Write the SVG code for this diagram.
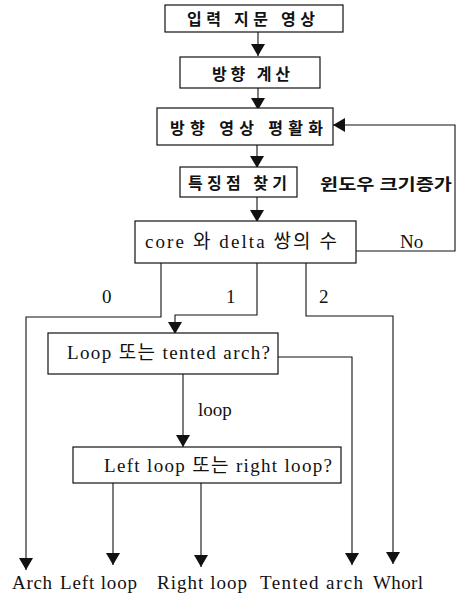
<svg xmlns="http://www.w3.org/2000/svg" width="460" height="597" viewBox="0 0 460 597">
<style>
.box{fill:#fff;stroke:#111;stroke-width:1.2}
.ln{fill:none;stroke:#111;stroke-width:1.1}
.t{font-family:"Liberation Serif","Noto Sans CJK KR",serif;fill:#111}
.k{font-size:16px;font-weight:bold}
.e{font-size:19px}
.b{font-size:19px}
</style>
<defs>
<marker id="ah" markerUnits="userSpaceOnUse" markerWidth="12" markerHeight="14" viewBox="0 0 12 14" refX="12" refY="7" orient="auto">
<path d="M0,0 L12,7 L0,14 Z" fill="#111"/>
</marker>
</defs>
<g id="connectors">
<line class="ln" x1="258" y1="32" x2="258" y2="56" marker-end="url(#ah)"/>
<line class="ln" x1="258" y1="88" x2="258" y2="110" marker-end="url(#ah)"/>
<line class="ln" x1="257" y1="145" x2="257" y2="168" marker-end="url(#ah)"/>
<line class="ln" x1="257" y1="197" x2="257" y2="222" marker-end="url(#ah)"/>
<polyline class="ln" points="356,251 455,251 455,125 333,125" marker-end="url(#ah)"/>
<polyline class="ln" points="161,263 161,317 26,317 26,570" marker-end="url(#ah)"/>
<polyline class="ln" points="257,263 257,315 175,315 175,334" marker-end="url(#ah)"/>
<polyline class="ln" points="306,263 306,316 393,316 393,564" marker-end="url(#ah)"/>
<polyline class="ln" points="278,357 352,357 352,565" marker-end="url(#ah)"/>
<line class="ln" x1="183" y1="374" x2="183" y2="447" marker-end="url(#ah)"/>
<line class="ln" x1="113" y1="483" x2="113" y2="565" marker-end="url(#ah)"/>
<line class="ln" x1="201" y1="483" x2="201" y2="567" marker-end="url(#ah)"/>
<text class="t k" x="320" y="190" textLength="132" lengthAdjust="spacingAndGlyphs">윈도우 크기증가</text>
<text class="t e" x="400" y="248">No</text>
<text class="t e" x="102" y="303">0</text>
<text class="t e" x="226" y="303">1</text>
<text class="t e" x="319" y="303">2</text>
<text class="t e" x="198" y="416">loop</text>
</g>
<g id="n1"><rect class="box" x="165" y="5" width="178" height="27"/><text class="t k" x="187" y="25" textLength="128" lengthAdjust="spacing">입력 지문 영상</text></g>
<g id="n2"><rect class="box" x="180" y="57" width="140" height="31"/><text class="t k" x="212" y="80" textLength="78" lengthAdjust="spacing">방향 계산</text></g>
<g id="n3"><rect class="box" x="157" y="108" width="176" height="37"/><text class="t k" x="170" y="134" textLength="153" lengthAdjust="spacing">방향 영상 평활화</text></g>
<g id="n4"><rect class="box" x="180" y="167" width="117" height="30"/><text class="t k" x="188" y="189" textLength="99" lengthAdjust="spacing">특징점 찾기</text></g>
<g id="n5"><rect class="box" x="135" y="221" width="221" height="42"/><text class="t e" x="145" y="248" textLength="192" lengthAdjust="spacing">core 와 delta 쌍의 수</text></g>
<g id="n6"><rect class="box" x="48" y="333" width="230" height="41"/><text class="t e" x="67" y="359" textLength="203" lengthAdjust="spacing">Loop 또는 tented arch?</text></g>
<g id="n7"><rect class="box" x="73" y="447" width="268" height="36"/><text class="t e" x="104" y="472" textLength="228" lengthAdjust="spacing">Left loop 또는 right loop?</text></g>
<g id="outputs">
<text class="t b" x="12" y="589" textLength="40" lengthAdjust="spacing">Arch</text>
<text class="t b" x="60" y="589" textLength="77" lengthAdjust="spacing">Left loop</text>
<text class="t b" x="157" y="589" textLength="90" lengthAdjust="spacing">Right loop</text>
<text class="t b" x="260" y="589" textLength="103" lengthAdjust="spacing">Tented arch</text>
<text class="t b" x="373" y="589" textLength="50" lengthAdjust="spacing">Whorl</text>
</g>
</svg>
